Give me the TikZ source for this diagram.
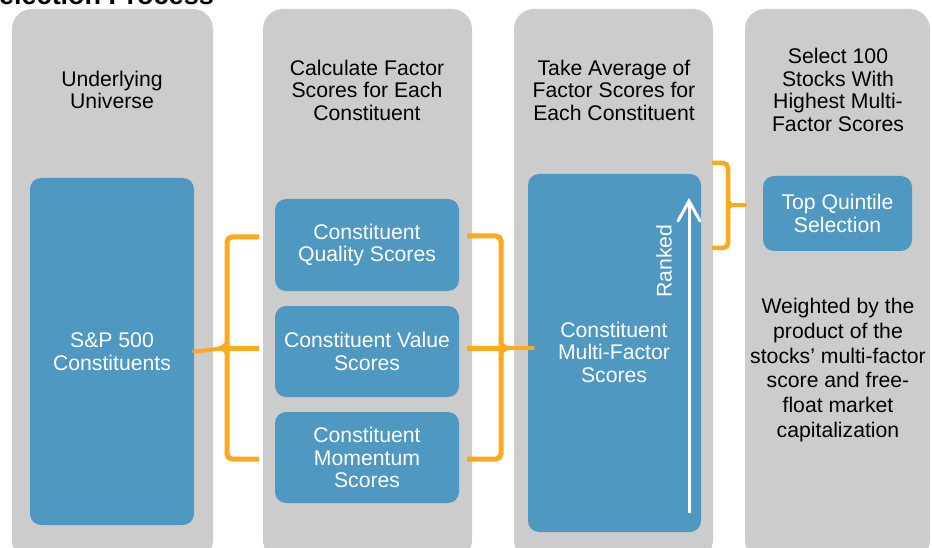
\documentclass[tikz,border=0pt]{standalone}
\usepackage{fontspec}
\setmainfont{Liberation Sans}
\usetikzlibrary{calc}
\definecolor{colgrey}{HTML}{CCCCCC}
\definecolor{boxblue}{HTML}{4F98C1}
\definecolor{bOrange}{HTML}{FCA91C}
\tikzset{
  column/.style={fill=colgrey, rounded corners=20pt, inner sep=0pt, minimum height=551pt},
  bluebox/.style={fill=boxblue, rounded corners=11pt, inner sep=0pt, text=white, align=center,
    font=\fontsize{21.2}{22.5}\selectfont},
  head/.style={inner sep=0pt, align=center, text=black, font=\fontsize{21.2}{22.5}\selectfont},
  brace/.style={draw=bOrange, line width=5pt, rounded corners=5pt},
  bracetip/.style={draw=bOrange, line width=4pt, line cap=round},
  flare/.style={fill=bOrange},
}
\begin{document}
\begin{tikzpicture}[x=1pt,y=-1pt]
\useasboundingbox (0,0) rectangle (932,548);
\clip (0,0) rectangle (932,548);
% title
\node[anchor=base west, inner sep=0pt, font=\bfseries\fontsize{27}{30}\selectfont] (title) at (-19,5) {Selection Process};
% columns
\node[column, minimum width=201pt] (c1) at (112.5,284.5) {};
\node[column, minimum width=209pt] (c2) at (367.5,284.5) {};
\node[column, minimum width=199pt] (c3) at (613.5,284.5) {};
\node[column, minimum width=185pt] (c4) at (837.5,284.5) {};
% headers
\node[head] (h1) at (112,90) {Underlying\\Universe};
\node[head] (h2) at (367,90) {Calculate Factor\\Scores for Each\\Constituent};
\node[head] (h3) at (614,90) {Take Average of\\Factor Scores for\\Each Constituent};
\node[head] (h4) at (838,90) {Select 100\\Stocks With\\Highest Multi-\\Factor Scores};
% blue boxes
\node[bluebox, minimum width=164pt, minimum height=347pt] (sp) at (112,351.5) {S\&P 500\\Constituents};
\node[bluebox, minimum width=184pt, minimum height=92pt] (q) at (367,245) {Constituent\\Quality Scores};
\node[bluebox, minimum width=184pt, minimum height=91pt] (v) at (367,351.5) {Constituent Value\\Scores};
\node[bluebox, minimum width=184pt, minimum height=91pt] (m) at (367,457.5) {Constituent\\Momentum\\Scores};
\node[bluebox, minimum width=173pt, minimum height=358pt] (mf) at (614.5,353) {};
\node[head, text=white] (mft) at (614,352) {Constituent\\Multi-Factor\\Scores};
\node[bluebox, minimum width=149pt, minimum height=75pt] (tq) at (837.5,213.5) {Top Quintile\\Selection};
\node[head, font=\fontsize{21.2}{24.8}\selectfont] (w) at (838,370) {Weighted by the\\product of the\\stocks’ multi-factor\\score and free-\\float market\\capitalization};
% ranked arrow
\coordinate (rb) at (689,513);
\coordinate (rt) at (689,201);
\draw[white, line width=3pt] (rb) -- (rt);
\draw[white, line width=3pt, line cap=round, line join=miter] ($(rt)+(-11,20)$) -- (rt) -- ($(rt)+(11,20)$);
\node[inner sep=0pt, rotate=90, text=white, font=\fontsize{21.2}{22.5}\selectfont] (rk) at (664,261) {Ranked};
% left brace
\coordinate (la1) at (259,237);
\coordinate (la2) at (259,348);
\coordinate (la3) at (259,459);
\draw[brace] (la1) -- (227,237) -- (227,459) -- (la3);
\draw[brace] (227,348) -- (la2);
\draw[bracetip] (sp.east) -- (227,348);
\fill[flare] (212,348) .. controls (221,347) and (225,344) .. (227,339) -- (227,357) .. controls (225,352) and (221,349) .. (212,348) -- cycle;
% right brace
\coordinate (ra1) at (467,236);
\coordinate (ra2) at (467,348);
\coordinate (ra3) at (467,459);
\coordinate (rtip) at ($(mf.west)+(5,-5)$);
\draw[brace] (ra1) -- (501,236) -- (501,459) -- (ra3);
\draw[brace] (ra2) -- (501,348);
\draw[bracetip] (501,348) -- (rtip);
\fill[flare] (516,348) .. controls (507,347) and (503,344) .. (501,339) -- (501,357) .. controls (503,352) and (507,349) .. (516,348) -- cycle;
% third brace
\coordinate (ta1) at (712,163);
\coordinate (ta2) at (712,248);
\coordinate (ttip) at (745,205);
\draw[brace, line width=4.5pt] (ta1) -- (728,163) -- (728,248) -- (ta2);
\draw[bracetip] (728,205) -- (ttip);
\fill[flare] (738,205) .. controls (733,204) and (730,202) .. (728,198) -- (728,212) .. controls (730,208) and (733,206) .. (738,205) -- cycle;
\end{tikzpicture}
\end{document}
